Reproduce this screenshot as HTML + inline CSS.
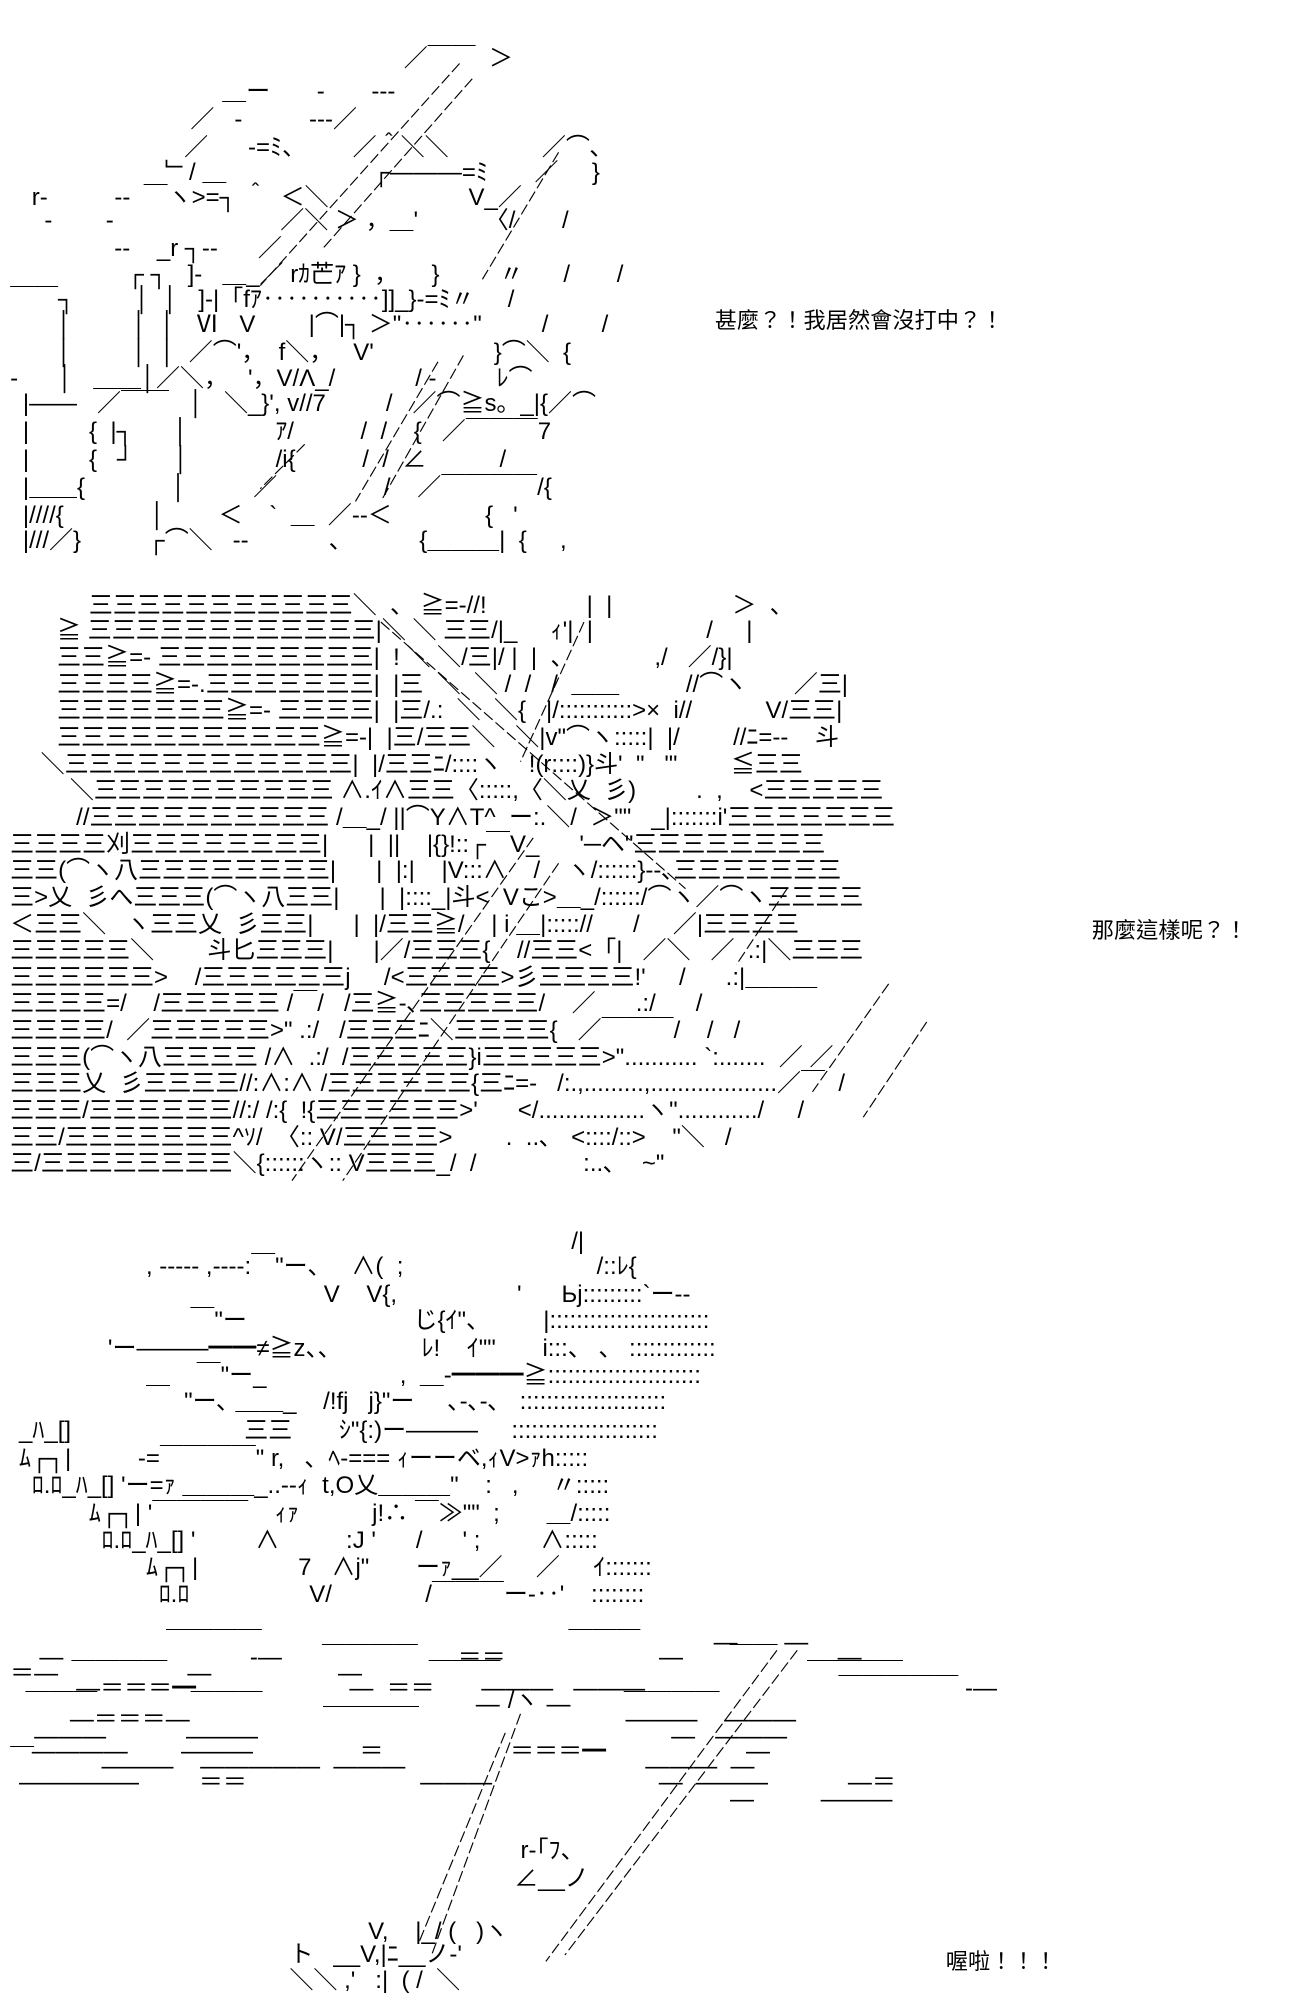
<!DOCTYPE html>
<html><head><meta charset="utf-8">
<style>
html{margin:0;padding:0;width:1300px;height:2000px;overflow:hidden;background:#fff;}
body{margin:0;padding:0;width:1300px;height:2000px;overflow:hidden;position:relative;background:#fff;}
#c{position:absolute;left:0;top:0;width:1024px;height:1575px;zoom:1.2695;overflow:hidden;}
.t{position:absolute;white-space:pre;font-family:"Liberation Sans","Noto Sans CJK JP",sans-serif;font-size:18.9px;line-height:21px;color:#000;}
.s{position:absolute;white-space:pre;font-family:"Liberation Sans","Noto Sans CJK TC",sans-serif;font-size:17.5px;line-height:21px;color:#000;}
svg{position:absolute;left:0;top:0;}
</style></head><body><div id="c">
<svg width="1024" height="1575" stroke="#000" stroke-width="0.9" fill="none" stroke-dasharray="9 3">
<line x1="362" y1="50" x2="205" y2="225"/>
<line x1="372" y1="62" x2="255" y2="195"/>
<line x1="440" y1="120" x2="380" y2="220"/>
<line x1="365" y1="280" x2="300" y2="395"/>
<line x1="345" y1="285" x2="280" y2="395"/>
<line x1="240" y1="350" x2="205" y2="385"/>
<line x1="300" y1="490" x2="540" y2="700"/>
<line x1="420" y1="660" x2="230" y2="930"/>
<line x1="440" y1="680" x2="270" y2="930"/>
<line x1="460" y1="490" x2="410" y2="600"/>
<line x1="700" y1="775" x2="640" y2="860"/>
<line x1="730" y1="805" x2="680" y2="880"/>
<line x1="620" y1="700" x2="580" y2="760"/>
<line x1="628" y1="1300" x2="445" y2="1540"/>
<line x1="612" y1="1300" x2="430" y2="1545"/>
<line x1="410" y1="1350" x2="340" y2="1540"/>
<line x1="398" y1="1365" x2="330" y2="1530"/>
</svg>

<div class="t" style="left:318px;top:36px">／￣￣  ＞</div>
<div class="t" style="left:175px;top:62px">＿ー       -       ---</div>
<div class="t" style="left:150px;top:84px">／   -          ---／</div>
<div class="t" style="left:145px;top:106px">／      -=ﾐ、       ／＾＼＼              ／⌒､</div>
<div class="t" style="left:130px;top:126px">﹂/ ＿                      ┌―――=ﾐ       ／     }</div>
<div class="t" style="left:25px;top:146px">r‐          --  ￣ヽ&gt;=┐ ＾  ＜＼                     V_／</div>
<div class="t" style="left:35px;top:164px">-        -                         ／＼ ＞ ，＿'          〈/       /</div>
<div class="t" style="left:90px;top:186px">--    _r ┐--      ／</div>
<div class="t" style="left:100px;top:206px">┌ ┐   ]-   ＿_／ rｶ芒ｱ }  ，     }         〃      /       /</div>
<div class="t" style="left:8px;top:226px">￣￣┐         │  │   ]-|「fｱ‥‥‥‥‥]]_}-=ﾐ〃     /</div>
<div class="t" style="left:45px;top:246px">│         │  │   Ⅵ   V        |⌒|┐ ＞"‥‥‥"         /        /</div>
<div class="t" style="left:45px;top:268px">│         │  │  ／⌒'，  f＼，   V'                  }⌒＼  {</div>
<div class="t" style="left:8px;top:288px">-      │   ＿＿│／＼，   '，V/Λ_/            / -         ﾚ⌒</div>
<div class="t" style="left:18px;top:308px">|――   ／￣￣   │   ＼_}', v//7         /   ／⌒≧s。_|{／⌒</div>
<div class="t" style="left:18px;top:330px">|         {  |┐      │             ｱ/          /  /    {   ／￣￣￣7</div>
<div class="t" style="left:18px;top:352px">|         {   ┘      │             /i{          /  /  ∠           /</div>
<div class="t" style="left:18px;top:374px">|＿＿{             │          ／                /    ／￣￣￣￣/{</div>
<div class="t" style="left:18px;top:396px">|////{             │        ＜    `  ＿  ／--＜              {   '</div>
<div class="t" style="left:18px;top:416px">|///／}          ┌⌒＼   --            、          {＿＿＿|  {     ,</div>
<div class="s" style="left:563px;top:243px">甚麼？！我居然會沒打中？！</div>

<div class="t" style="left:70px;top:467px">三三三三三三三三三三三＼  、 ≧=-//!               |  |                  ＞  、</div>
<div class="t" style="left:45px;top:487px">≧ 三三三三三三三三三三三三|＼ ＼ 三三/|_     ｨ'|  |                 /     |</div>
<div class="t" style="left:45px;top:508px">三三≧=- 三三三三三三三三三|  ! ＼ ＼/三|/ |  |  、            ,/   ／/}|</div>
<div class="t" style="left:45px;top:529px">三三三三≧=-.三三三三三三三|  |三  ＼  ＼ /  /   /  ＿＿          //⌒ヽ       ／三|</div>
<div class="t" style="left:45px;top:550px">三三三三三三三≧=- 三三三三|  |三/.:  ＼  ＼{   |/:::::::::::&gt;×  i//           V/三三|</div>
<div class="t" style="left:45px;top:571px">三三三三三三三三三三三≧=-|  |三/三三＼   ＼|v"⌒ヽ:::::|  |/        //ﾆ=--    斗</div>
<div class="t" style="left:32px;top:592px">＼三三三三三三三三三三三三|  |/三三ﾆ/::::ヽ    !(r::::)}斗'  "   "'        ≦三三</div>
<div class="t" style="left:55px;top:613px">＼三三三三三三三三三三 ∧.ｲ∧三三〈:::::,〈＼乂  彡)         .  ,    &lt;三三三三三</div>
<div class="t" style="left:60px;top:634px">//三三三三三三三三三三 /＿_/ ||⌒Y∧T^  ー:.＼/  ＞""   _|:::::::i'三三三三三三三</div>
<div class="t" style="left:8px;top:655px">三三三三刈三三三三三三三三|      |  ||    |{}!::┌￣V_      '─ヘ"三三三三三三三三</div>
<div class="t" style="left:8px;top:676px">三三(⌒ヽ八三三三三三三三三|      |  |:|    |V:::∧    /    ヽ/::::::}--､三三三三三三三</div>
<div class="t" style="left:8px;top:697px">三&gt;乂  彡へ三三三(⌒ヽ八三三|      |  |::::_|斗&lt;  Vこ&gt;＿_/::::::/⌒ヽ／⌒ヽ三三三三</div>
<div class="t" style="left:8px;top:718px">＜三三＼   ヽ三三乂  彡三三|      |  |/三三≧/    | i ＿|::::://      /     ／|三三三三</div>
<div class="t" style="left:8px;top:739px">三三三三三＼        斗匕三三三|      |／/三三三{    //三三&lt;「|   ／＼   ／  .:|＼三三三</div>
<div class="t" style="left:8px;top:760px">三三三三三三&gt;    /三三三三三三j     /&lt;三三三三&gt;彡三三三三!'     /      .:|＿＿＿</div>
<div class="t" style="left:8px;top:781px">三三三三=/    /三三三三三 /￣/   /三≧-､三三三三三/    ／      .:/      /</div>
<div class="t" style="left:8px;top:802px">三三三三/  ／三三三三三&gt;" .:/   /三三三ﾆ＼三三三三{   ／￣￣￣/    /   /</div>
<div class="t" style="left:8px;top:823px">三三三(⌒ヽ八三三三三 /∧  .:/  /三三三三三}i三三三三三&gt;"........... `:.......  ／ ／</div>
<div class="t" style="left:8px;top:844px">三三三乂  彡三三三三//:∧:∧ /三三三三三三{三ﾆ=-   /:.,.........,...................／￣  /</div>
<div class="t" style="left:8px;top:865px">三三三/三三三三三三//:/ /:{  !{三三三三三三&gt;'      &lt;/................ヽ"............/     /</div>
<div class="t" style="left:8px;top:886px">三三/三三三三三三三^ｿ/  〈:: V/三三三三&gt;        .  ..､   &lt;::::/::&gt;    "＼   /</div>
<div class="t" style="left:8px;top:907px">三/三三三三三三三三＼{::::::ヽ:: V三三三_/  /                :..､    ~"</div>
<div class="s" style="left:860px;top:723px">那麼這樣呢？！</div>

<div class="t" style="left:450px;top:968px">/|</div>
<div class="t" style="left:115px;top:988px">, ----- ,----:￣"ー、   ∧(  ;                             /::ﾚ{</div>
<div class="t" style="left:255px;top:1010px">V    V{,                  '      Ьj:::::::::`ー--</div>
<div class="t" style="left:150px;top:1030px">￣"ー                         じ{ｲ"、        |::::::::::::::::::::::::</div>
<div class="t" style="left:85px;top:1052px">'ー―――━━≠≧z、、            ﾚ!    ｲ""       i:::、 、 :::::::::::::</div>
<div class="t" style="left:115px;top:1074px">＿    ￣"ー_                    ,  ＿-━━━≧:::::::::::::::::::::::</div>
<div class="t" style="left:145px;top:1094px">"ー､ ＿＿_    /!fj   j}"ー     ､-､-､   ::::::::::::::::::::::</div>
<div class="t" style="left:15px;top:1117px">_ﾊ_[]                          三三       ｼ"{:)ー―――     ::::::::::::::::::::::</div>
<div class="t" style="left:15px;top:1139px">ﾑ┌┐|          -=￣￣￣￣" r,   、ﾍ-=== ｨーーベ,ｨV&gt;ｧh:::::</div>
<div class="t" style="left:25px;top:1160px">ﾛ.ﾛ_ﾊ_[] 'ー=ｧ ＿＿＿_..--ｨ  t,O乂＿＿＿"    :   ,     〃:::::</div>
<div class="t" style="left:70px;top:1182px">ﾑ┌┐| '￣￣￣￣    ｨｧ           j!∴ ￣≫""  ;       ＿/:::::</div>
<div class="t" style="left:80px;top:1204px">ﾛ.ﾛ_ﾊ_[] '         ∧          :J '      /      ' ;         ∧:::::</div>
<div class="t" style="left:115px;top:1225px">ﾑ┌┐|               7   ∧j"       ーｧ__／     ／     ｲ:::::::</div>
<div class="t" style="left:125px;top:1246px">ﾛ.ﾛ                  V/              /￣￣￣ー-‥'    ::::::::</div>

<div class="t" style="left:10px;top:1284px">                       ￣￣￣￣                                              ￣￣￣           ―       ―</div>
<div class="t" style="left:10px;top:1296px">    ―                            -―      ￣￣￣￣      ＝＝                       ―       ￣￣         ―</div>
<div class="t" style="left:8px;top:1308px">＝―  ￣￣￣￣   ―                   ―          ￣￣￣                                              ￣￣￣￣</div>
<div class="t" style="left:60px;top:1320px">―＝＝＝━                       ―  ＝＝       ―――   ―――                             ￣￣￣￣￣ -―</div>
<div class="t" style="left:20px;top:1333px">￣￣￣              ￣￣￣                                ―       ―        ￣￣￣￣</div>
<div class="t" style="left:55px;top:1345px">―＝＝＝―                    ￣￣￣￣                               ―――    ―――</div>
<div class="t" style="left:8px;top:1358px">＿―――            ―――                                                              ―   ―――</div>
<div class="t" style="left:25px;top:1370px">――――        ―――                ＝                   ＝＝＝━                     ―</div>
<div class="t" style="left:80px;top:1382px">―――    ―――――  ―――                                    ―――  ―</div>
<div class="t" style="left:15px;top:1394px">―――――         ＝＝                          ―――                         ―  ―――            ―＝</div>
<div class="t" style="left:575px;top:1408px">―          ―――</div>
<div class="t" style="left:400px;top:1330px">/ヽ</div>
<div class="t" style="left:410px;top:1448px">r-｢ﾌ、</div>
<div class="t" style="left:405px;top:1470px">∠__ノ</div>
<div class="t" style="left:290px;top:1512px">V,    |_/ (   )ヽ</div>
<div class="t" style="left:228px;top:1530px">ト   __V,|ﾆ__ノ-'</div>
<div class="t" style="left:228px;top:1550px">＼＼ ,'   :|  ( /  ＼</div>
<div class="s" style="left:745px;top:1535px">喔啦！！！</div>
</div></body></html>
